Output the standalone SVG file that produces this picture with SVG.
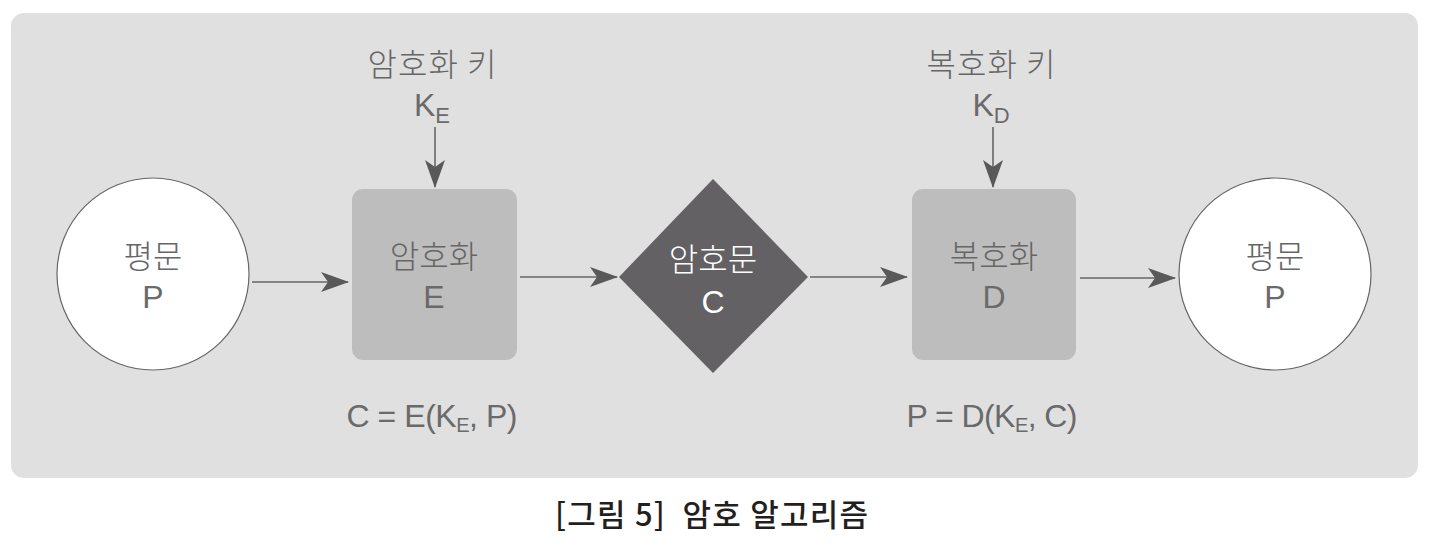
<svg xmlns="http://www.w3.org/2000/svg" width="1429" height="553" viewBox="0 0 1429 553">
<defs>
<style>
.t{font-family:"Noto Sans CJK KR","Noto Sans",sans-serif;font-weight:300;fill:#666;font-size:32px;text-anchor:middle}
.l{font-family:"Liberation Sans",Arial,sans-serif;font-weight:400;fill:#6a6a6a;font-size:32px;text-anchor:middle}
.w{fill:#fff}
.cap{font-family:"Noto Sans CJK KR","Noto Sans",sans-serif;font-weight:500;fill:#231f20;font-size:31px}
.ln{stroke:#666;stroke-width:1.6;fill:none}
</style>
<marker id="ah" viewBox="0 0 28 20" markerWidth="28" markerHeight="20" refX="27" refY="10" orient="auto" markerUnits="userSpaceOnUse">
<path d="M0,0 L28,10 L0,20 L7,10 Z" fill="#595959"/>
</marker>
</defs>
<rect x="11" y="13" width="1407" height="465" rx="13" fill="#e0e0e0"/>
<g id="connectors">
<line class="ln" x1="252" y1="282" x2="348" y2="282" marker-end="url(#ah)"/>
<line class="ln" x1="520" y1="277" x2="617" y2="277" marker-end="url(#ah)"/>
<line class="ln" x1="810" y1="277" x2="907" y2="277" marker-end="url(#ah)"/>
<line class="ln" x1="1080" y1="278" x2="1175" y2="278" marker-end="url(#ah)"/>
<line class="ln" x1="435" y1="127" x2="435" y2="187" marker-end="url(#ah)"/>
<line class="ln" x1="993" y1="127" x2="993" y2="187" marker-end="url(#ah)"/>
</g>
<g id="plain1">
<circle cx="153" cy="274" r="96" fill="#fff" stroke="#666" stroke-width="1.2"/>
<text class="t" x="153" y="268">평문</text>
<text class="l" x="153" y="308">P</text>
</g>
<g id="encrypt">
<rect x="352" y="189" width="165" height="171" rx="11" fill="#bdbdbd"/>
<text class="t" x="434" y="268">암호화</text>
<text class="l" x="434" y="308">E</text>
</g>
<g id="cipher">
<polygon points="713,179 808,277 713,373 619,277" fill="#636163"/>
<text class="t w" x="713" y="271">암호문</text>
<text class="l w" x="713" y="313">C</text>
</g>
<g id="decrypt">
<rect x="912" y="189" width="164" height="171" rx="11" fill="#bdbdbd"/>
<text class="t" x="994" y="268">복호화</text>
<text class="l" x="994" y="308">D</text>
</g>
<g id="plain2">
<circle cx="1275" cy="274" r="96" fill="#fff" stroke="#666" stroke-width="1.2"/>
<text class="t" x="1275" y="268">평문</text>
<text class="l" x="1275" y="308">P</text>
</g>
<g id="enckey">
<text class="t" x="432" y="76" textLength="129">암호화 키</text>
<text class="l" x="432" y="116">K<tspan font-size="22" dy="7">E</tspan></text>
</g>
<g id="deckey">
<text class="t" x="991" y="76" textLength="129">복호화 키</text>
<text class="l" x="991" y="116">K<tspan font-size="22" dy="7">D</tspan></text>
</g>
<g id="formula1">
<text class="l" x="432" y="427" textLength="171">C = E(K<tspan font-size="20" dy="5">E</tspan><tspan dy="-5">, P)</tspan></text>
</g>
<g id="formula2">
<text class="l" x="992" y="427" textLength="171">P = D(K<tspan font-size="20" dy="5">E</tspan><tspan dy="-5">, C)</tspan></text>
</g>
<g id="caption">
<text class="cap" x="555" y="526" xml:space="preserve" textLength="313">[그림 5]  암호 알고리즘</text>
</g>
</svg>
